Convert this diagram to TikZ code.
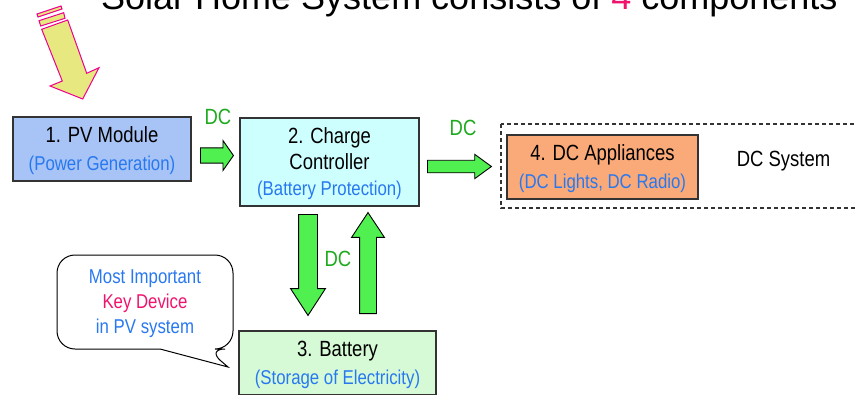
\documentclass[tikz,border=0pt]{standalone}
\usepackage{fontspec}
\setmainfont{Liberation Sans}
\newfontfamily\narrowsans{Liberation Sans}[FakeStretch=0.84]
\usetikzlibrary{shapes.arrows}
\definecolor{pvblue}{RGB}{168,196,246}
\definecolor{ccfill}{RGB}{206,255,255}
\definecolor{appfill}{RGB}{250,170,120}
\definecolor{batfill}{RGB}{214,250,214}
\definecolor{arrowgreen}{RGB}{80,240,80}
\definecolor{dcgreen}{RGB}{30,170,30}
\definecolor{subblue}{RGB}{40,120,240}
\definecolor{keyred}{RGB}{240,20,110}
\definecolor{sunfill}{RGB}{232,232,128}
\newcommand\subline[1]{{\color{subblue}\fontsize{20}{28}\selectfont#1}}

\begin{document}
\begin{tikzpicture}[x=1pt,y=-1pt,
	box/.style={draw=black!80,line width=1.1pt,inner sep=0pt,align=center,text depth=0pt,font=\narrowsans\fontsize{22}{28}\selectfont},
	dcarrow/.style={single arrow,draw=black,line width=0.9pt,fill=arrowgreen,anchor=tail},
	dclabel/.style={text=dcgreen,inner sep=0pt,font=\narrowsans\fontsize{22}{25}\selectfont},
	sunarrow/.style={draw=magenta,fill=sunfill,line width=1pt,line join=miter}]
	\useasboundingbox (0,0) rectangle (855,394);
	\clip (0,0) rectangle (855,394);
	\node[anchor=base west,inner sep=0pt,font=\fontsize{36}{40}\selectfont] (title) at (101,9.5) {Solar Home System consists of \textcolor{keyred}{4} components};
	\draw[sunarrow] (41.7,29.3) -- (67.7,20) -- (86.7,73.3) -- (99,67.7) -- (82.7,99) -- (50,86) -- (62.3,81) -- cycle;
	\draw[sunarrow] (39,20.7) -- (63.7,12.7) -- (65,18.3) -- (40.7,26) -- cycle;
	\draw[sunarrow] (37,14) -- (61,6) -- (62,9) -- (38,17) -- cycle;
	\node[box,fill=pvblue,minimum width=178pt,minimum height=64pt] (pv) at (102,149) {1. PV Module\\\subline{(Power Generation)}};
	\node[box,fill=ccfill,minimum width=179pt,minimum height=88pt,font=\narrowsans\fontsize{22}{26}\selectfont] (cc) at (329.5,162) {2. Charge\\Controller\\\subline{(Battery Protection)}};
	\draw[black!80,line width=1.1pt,dash pattern=on 4pt off 3pt] (501,124) rectangle (870,208);
	\node[box,fill=appfill,minimum width=191pt,minimum height=64pt] (app) at (602.5,167) {4. DC Appliances\\\subline{(DC Lights, DC Radio)}};
	\node[box,draw=none] (sys) at (783.5,159) {DC System};
	\node[box,fill=batfill,minimum width=197pt,minimum height=64pt] (bat) at (337.5,363) {3. Battery\\\subline{(Storage of Electricity)}};
	\node[dcarrow,minimum height=33pt,inner sep=7.2pt,single arrow head extend=7.3pt,single arrow tip angle=110] (pvcc) at (200,155.5) {};
	\node[dcarrow,minimum height=64pt,inner sep=5.8pt,single arrow head extend=5.9pt,single arrow tip angle=72] (ccapp) at (427,166.5) {};
	\node[dcarrow,minimum height=101pt,inner sep=9pt,single arrow head extend=8pt,single arrow tip angle=66,shape border rotate=270] (ccbat) at (308,214) {};
	\node[dcarrow,minimum height=101pt,inner sep=8pt,single arrow head extend=8pt,single arrow tip angle=67,shape border rotate=90] (batcc) at (368,314) {};
	\foreach \p/\n in {{(218,117)}/dca,{(463,128)}/dcb,{(338,259)}/dcc} \node[dclabel] (\n) at \p {DC};
	\draw[black,line width=1pt,fill=white] (110,255) [rounded corners=18] -- (233,255) -- (233,349) -- (207,349) [sharp corners] -- (228,367) -- (160,349) -- (150,349) [rounded corners=18] -- (57,349) -- (57,255) -- cycle;
	\node[align=center,inner sep=0pt,text depth=0pt,text=subblue,font=\narrowsans\fontsize{20}{25}\selectfont] (note) at (145,302) {Most Important\\\textcolor{keyred}{Key Device}\\in PV system};
\end{tikzpicture}
\end{document}
